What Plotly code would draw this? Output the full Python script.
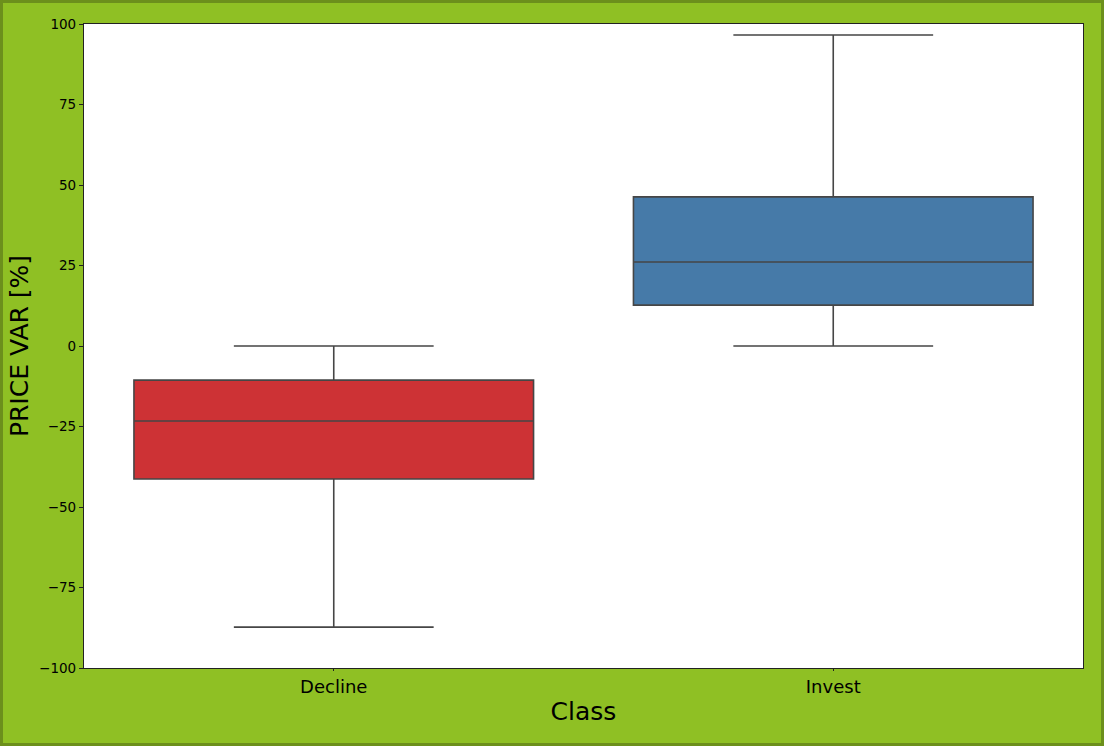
import plotly.graph_objects as go

categories = ["Decline", "Invest"]
lower_whisker = [-87.3, 0.0]
q1_values = [-41.3, 12.7]
medians = [-23.3, 26.1]
q3_values = [-10.6, 46.3]
upper_whisker = [0.0, 96.6]
box_colors = ["#cd3235", "#467aa8"]
y_ticks = [-100, -75, -50, -25, 0, 25, 50, 75, 100]
y_tick_labels = ["\u2212100", "\u221275", "\u221250", "\u221225", "0", "25", "50", "75", "100"]

W, H = 1104, 746
ml, mr, mt, mb = 84, 21, 24, 78
pw, ph = W - ml - mr, H - mt - mb

fig = go.Figure()
for i, c in enumerate(categories):
    fig.add_trace(go.Box(
        x=[c], q1=[q1_values[i]], median=[medians[i]], q3=[q3_values[i]],
        lowerfence=[lower_whisker[i]], upperfence=[upper_whisker[i]],
        fillcolor=box_colors[i], line=dict(color="#464646", width=1.6),
        whiskerwidth=0.5, width=0.8, boxpoints=False, showlegend=False,
        hoverinfo="skip",
    ))

def px_x(p):
    return (p - ml) / pw

def px_y(p):
    return (H - mb - p) / ph

fig.add_shape(type="rect", xref="paper", yref="paper",
              x0=px_x(1.5), x1=px_x(W - 1.5), y0=px_y(H - 1.5), y1=px_y(1.5),
              line=dict(color="#6c8f1c", width=3), fillcolor="rgba(0,0,0,0)", layer="below")

fig.update_layout(
    width=W, height=H,
    margin=dict(l=ml, r=mr, t=mt, b=mb),
    paper_bgcolor="#8fc024",
    plot_bgcolor="white",
    font=dict(family="DejaVu Sans", color="black"),
    xaxis=dict(
        type="category", range=[-0.5, 1.5],
        showline=True, linecolor="#222222", linewidth=1.2, mirror=True,
        ticks="outside", ticklen=2, tickcolor="#222222",
        tickfont=dict(size=18), showgrid=False,
        title=dict(text="Class", font=dict(size=25), standoff=6),
    ),
    yaxis=dict(
        range=[-100, 100], tickvals=y_ticks, ticktext=y_tick_labels,
        showline=True, linecolor="#222222", linewidth=1.2, mirror=True,
        ticks="outside", ticklen=4, tickcolor="#222222",
        tickfont=dict(size=13.5), showgrid=False, zeroline=False,
        title=dict(text="PRICE VAR [%]", font=dict(size=25), standoff=3),
    ),
)

fig.write_html("out.html", config={"displayModeBar": False},
               post_script="document.body.style.margin='0';document.body.style.padding='0';")
